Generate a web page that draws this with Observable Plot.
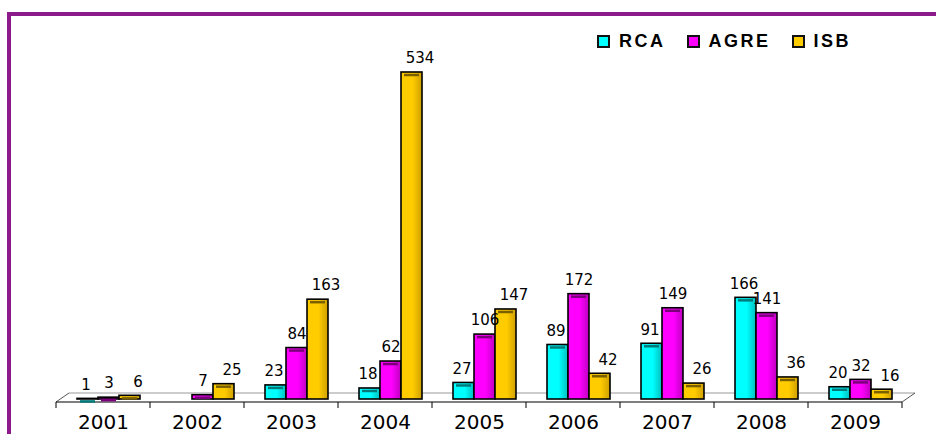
<!DOCTYPE html>
<html>
<head>
<meta charset="utf-8">
<script src="https://cdn.jsdelivr.net/npm/d3@7"></script>
<script src="https://cdn.jsdelivr.net/npm/@observablehq/plot@0.6"></script>
<style>
html, body { margin: 0; padding: 0; background: #fff; overflow: hidden; width: 936px; height: 434px; }
#wrap { position: relative; width: 936px; height: 434px; overflow: hidden; }
#frame { position: absolute; left: 7px; top: 12px; width: 1000px; height: 1000px; border: 4px solid #8D1A8B; box-sizing: border-box; }
#chart { position: absolute; left: 0; top: 0; }
#legend { position: absolute; left: 597px; top: 33px; height: 17px; display: flex; align-items: center; gap: 21px;
  font-family: "Liberation Sans", Arial, sans-serif; font-weight: bold; font-size: 18px; letter-spacing: 2.5px; color: #000; }
#legend .item { display: flex; align-items: center; }
#legend .sw { width: 13px; height: 13px; box-sizing: border-box; border: 2px solid #111; margin-right: 9px; }
</style>
</head>
<body>
<div id="wrap">
  <div id="frame"></div>
  <div id="chart"></div>
  <div id="legend"></div>
</div>
<script>
const years = ["2001", "2002", "2003", "2004", "2005", "2006", "2007", "2008", "2009"];
const series = ["RCA", "AGRE", "ISB"];
const rcaValues  = [1, null, 23, 18, 27, 89, 91, 166, 20];
const agreValues = [3, 7, 84, 62, 106, 172, 149, 141, 32];
const isbValues  = [6, 25, 163, 534, 147, 42, 26, 36, 16];
const seriesColors = ["#00FFFF", "#FF00FF", "#FFCC00"];
const seriesShades = ["#00BEBE", "#BE00BE", "#CFA000"];
const capColors = ["#007A7A", "#7A007A", "#7A6000"];
const labelDx = [-2, 0, 8];

const valuesBySeries = [rcaValues, agreValues, isbValues];
const rows = series.flatMap((s, i) =>
  years.map((y, j) => ({year: y, series: s, value: valuesBySeries[i][j]}))
).filter(d => d.value != null);

const bySeries = series.map(s => rows.filter(d => d.series === s));

const chart = Plot.plot({
  width: 936,
  height: 434,
  marginLeft: 55,
  marginRight: 34,
  marginTop: 72,
  marginBottom: 35,
  style: {background: "transparent"},
  fx: {domain: years, padding: 0, label: null},
  x: {domain: series, padding: 0, insetLeft: 21, insetRight: 10, axis: null},
  y: {domain: [0, 534], axis: null},
  marks: [
    ...series.map((s, i) => Plot.barY(bySeries[i], {
      fx: "year", x: "series", y: "value",
      fill: `url(#grad-${i})`, stroke: "#000", strokeWidth: 1.6
    })),
    ...series.map((s, i) => Plot.tickY(bySeries[i], {
      fx: "year", x: "series", y: "value",
      stroke: capColors[i], strokeWidth: 2.5, dy: 2.5, insetLeft: 3, insetRight: 3
    })),
    ...series.map((s, i) => Plot.text(bySeries[i], {
      fx: "year", x: "series", y: "value", text: d => String(d.value),
      dy: -14, dx: labelDx[i], fontSize: 15, fontFamily: "DejaVu Sans", fill: "#000"
    })),
    Plot.axisFx({anchor: "bottom", tickSize: 0, tickPadding: 15, fontSize: 20,
      fontFamily: "DejaVu Sans", label: null, fill: "#000"})
  ]
});

document.getElementById("chart").appendChild(chart);

// gradients
const svg = d3.select(chart);
const defs = svg.insert("defs", ":first-child");
series.forEach((s, i) => {
  const g = defs.append("linearGradient").attr("id", `grad-${i}`)
    .attr("x1", "0").attr("x2", "1").attr("y1", "0").attr("y2", "0");
  g.append("stop").attr("offset", "0").attr("stop-color", seriesColors[i]);
  g.append("stop").attr("offset", "0.55").attr("stop-color", seriesColors[i]);
  g.append("stop").attr("offset", "1").attr("stop-color", seriesShades[i]);
});

// floor / axis line with ticks at band edges, from the library's scales
const fx = chart.scale("fx");
const yScale = chart.scale("y");
const bw = fx.bandwidth;
const xa = fx.apply(years[0]);
const xb = fx.apply(years[years.length - 1]) + bw;
const y0 = yScale.apply(0);
const depthX = 13, depthY = 9;
const floor = svg.insert("g", "defs + *").attr("fill", "none");
floor.append("line").attr("x1", xa + depthX).attr("x2", xb + depthX)
  .attr("y1", y0 + 3 - depthY).attr("y2", y0 + 3 - depthY).attr("stroke", "#9a9a9a").attr("stroke-width", 1.2);
floor.append("line").attr("x1", xa).attr("x2", xa + depthX)
  .attr("y1", y0 + 3).attr("y2", y0 + 3 - depthY).attr("stroke", "#555");
floor.append("line").attr("x1", xb).attr("x2", xb + depthX)
  .attr("y1", y0 + 3).attr("y2", y0 + 3 - depthY).attr("stroke", "#555");
floor.append("line").attr("x1", xa).attr("x2", xb)
  .attr("y1", y0 + 3).attr("y2", y0 + 3).attr("stroke", "#000").attr("stroke-width", 1.2);
const edges = years.map(y => fx.apply(y)).concat([xb]);
edges.forEach(e => {
  floor.append("line").attr("x1", e).attr("x2", e)
    .attr("y1", y0 + 3).attr("y2", y0 + 9).attr("stroke", "#000");
});

// legend
const legend = d3.select("#legend");
series.forEach((s, i) => {
  const it = legend.append("div").attr("class", "item");
  it.append("div").attr("class", "sw").style("background", seriesColors[i]);
  it.append("span").text(s);
});
</script>
</body>
</html>
